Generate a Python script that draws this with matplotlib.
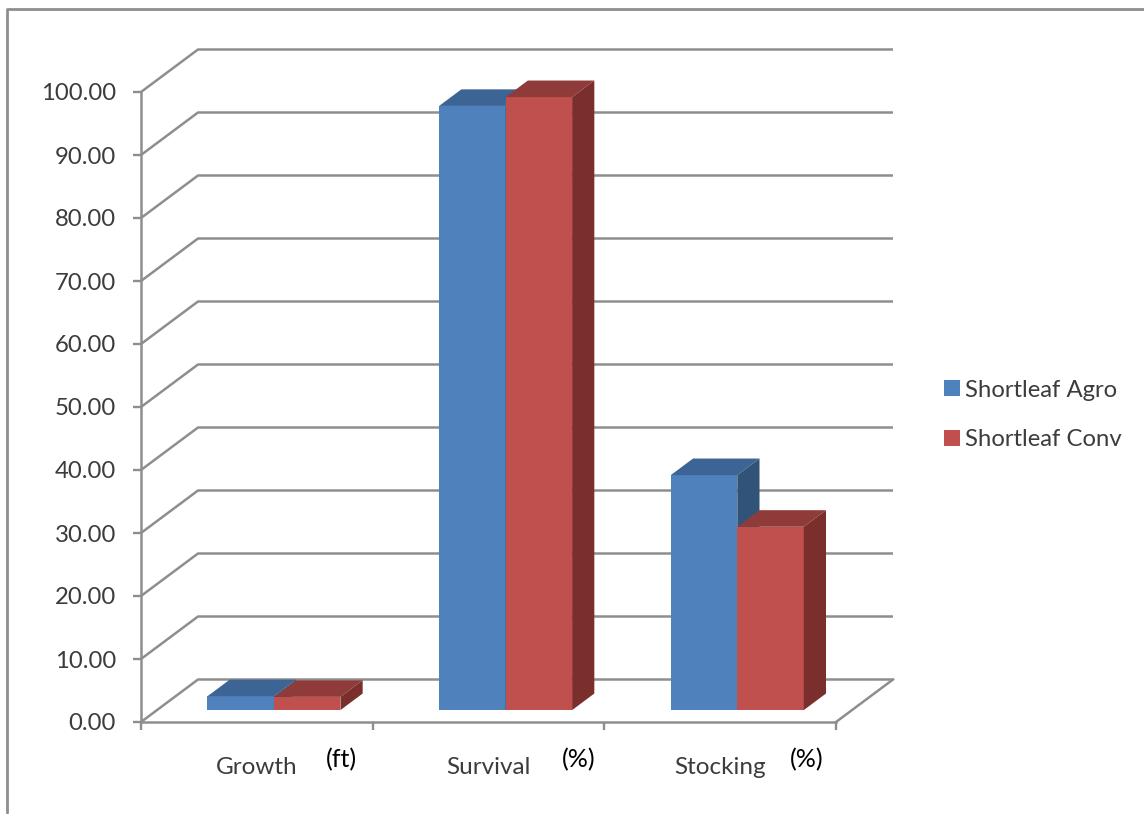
import numpy as np
import matplotlib
matplotlib.use('Agg')
import matplotlib.pyplot as plt
from matplotlib.lines import Line2D
from matplotlib.patches import Patch, Polygon

# data
categories = ['Growth', 'Survival', 'Stocking']
units = ['(ft)', '(%)', '(%)']
series_names = ['Shortleaf Agro', 'Shortleaf Conv']
agro = [2.2, 95.9, 37.3]
conv = [2.1, 97.3, 29.1]
yticks = [0, 10, 20, 30, 40, 50, 60, 70, 80, 90, 100]

W, H = 1144, 814
GREY = '#8e8e8e'
TEXT = '#3c3c3c'
plt.rcParams['font.family'] = ['Lato', 'DejaVu Sans']

fig = plt.figure(figsize=(W / 100, H / 100), dpi=100, facecolor='white')
# the axes rectangle is the front plane of the 3-D box
ax = fig.add_axes([141 / W, 1 - 722 / H, 695 / W, 630 / H])
ax.set_xlim(0, 3)
ax.set_ylim(0, 100)
ax.patch.set_visible(False)

# oblique projection: how far the back wall is shifted, in data units
px_x = 3 / 695
px_y = 100 / 630
DX = 57 * px_x
DY = 42.5 * px_y


def project(x, y, depth):
    return x + depth * DX, y + depth * DY


# wall grid lines, including the floor edge
for v in yticks:
    ax.plot([0, DX, 3 + DX], [v, v + DY, v + DY], color=GREY, lw=1.8,
            clip_on=False, zorder=1, solid_capstyle='butt')
ax.plot([3, 3 + DX], [0, DY], color=GREY, lw=1.8, clip_on=False, zorder=1)

# bars
BAR_W = 0.287
GAP = 0.218
D0, D1 = 0.28, 0.67
colors = [('#4f81bd', '#3c6494', '#325378'), ('#c0504d', '#8f3b39', '#7a2f2d')]


def draw_bar(i, s, value):
    front, top, side = colors[s]
    x0 = i + GAP + s * BAR_W
    x1 = x0 + BAR_W
    z = 3 + s
    a = project(x0, 0, D0)
    b = project(x1, 0, D0)
    h = value
    ax.add_patch(Polygon([a, b, (b[0], b[1] + h), (a[0], a[1] + h)], closed=True,
                         fc=front, ec='none', clip_on=False, zorder=z))
    ax.add_patch(Polygon([project(x0, h, D0), project(x1, h, D0),
                          project(x1, h, D1), project(x0, h, D1)], closed=True,
                         fc=top, ec='none', clip_on=False, zorder=z))
    ax.add_patch(Polygon([project(x1, 0, D0), project(x1, 0, D1),
                          project(x1, h, D1), project(x1, h, D0)], closed=True,
                         fc=side, ec='none', clip_on=False, zorder=z))


for i in range(len(categories)):
    draw_bar(i, 0, agro[i])
    draw_bar(i, 1, conv[i])

# axes
for name in ['top', 'right']:
    ax.spines[name].set_visible(False)
for name in ['left', 'bottom']:
    ax.spines[name].set_color(GREY)
    ax.spines[name].set_linewidth(1.8)
ax.set_yticks(yticks)
ax.set_yticklabels(['%.2f' % v for v in yticks])
ax.set_xticks([0, 1, 2, 3])
ax.set_xticklabels([])
ax.set_xticks([0.5, 1.5, 2.5], minor=True)
ax.set_xticklabels(categories, minor=True)
ax.tick_params(axis='both', which='major', color=GREY, width=1.7, length=6)
ax.tick_params(axis='y', labelsize=17.2, labelcolor=TEXT, pad=12)
ax.tick_params(axis='x', which='minor', length=0, labelsize=17.5, labelcolor=TEXT, pad=25)

# unit notes placed beside the category names
unit_x = [341, 579, 807]
for ux, u in zip(unit_x, units):
    fig.text(ux / W, 1 - 760 / H, u, ha='center', va='center', fontsize=18, color='black')

# legend
handles = [Patch(fc=colors[0][0], ec='none'), Patch(fc=colors[1][0], ec='none')]
fig.legend(handles, series_names, loc='center left', bbox_to_anchor=(944 / W, 1 - 415 / H),
           frameon=False, fontsize=17.2, labelcolor=TEXT, handlelength=0.67, handleheight=0.67,
           handletextpad=0.22, labelspacing=1.2, borderpad=0, borderaxespad=0)

# outer frame, top and left sides only
fig.add_artist(Line2D([7 / W, 7 / W, 1], [1 - 812 / H, 1 - 9 / H, 1 - 9 / H],
                      color=GREY, lw=2))

fig.savefig('out.png', dpi=100)
